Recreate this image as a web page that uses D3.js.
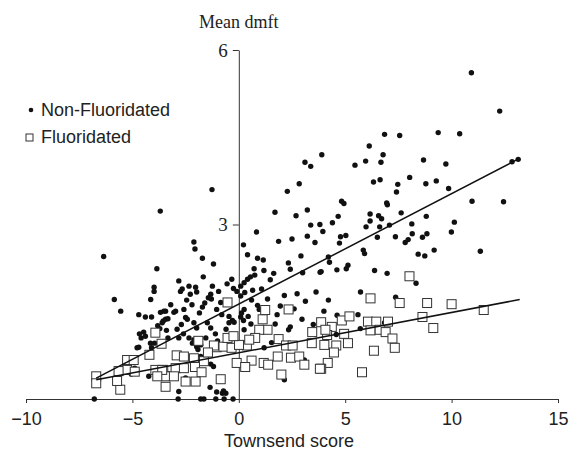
<!DOCTYPE html>
<html>
<head>
<meta charset="utf-8">
<script src="https://cdn.jsdelivr.net/npm/d3@7"></script>
<style>
  body { margin: 0; background: #fff; }
  .axis path, .axis line { stroke: #333; }
  .xaxis text { font-family: "Liberation Sans", Arial, sans-serif; font-size: 18px; fill: #222; }
  .yaxis text { font-family: "Liberation Serif", "Times New Roman", serif; font-size: 19px; fill: #222; }
</style>
</head>
<body>
<div id="chart"></div>
<script>
// Non-Fluoridated areas: [Townsend score, mean dmft]
const nonFluoridated = [
  [10.93,5.61],[12.26,4.95],[6.85,4.55],[7.56,4.53],[9.37,4.58],[10.38,4.56],[6.13,4.35],[3.90,4.20],
  [6.78,4.20],[3.11,4.07],[3.38,4.00],[5.46,4.02],[5.96,4.09],[6.68,4.07],[8.68,4.11],[9.73,4.04],
  [12.84,4.08],[13.13,4.12],[2.84,3.70],[2.28,3.57],[6.33,3.73],[6.64,3.77],[7.47,3.69],[7.41,3.56],
  [8.03,3.81],[8.79,3.70],[9.28,3.75],[9.86,3.62],[4.83,3.40],[4.94,3.36],[6.95,3.37],[6.98,3.34],
  [10.96,3.40],[12.44,3.39],[3.22,3.25],[2.69,3.15],[3.38,2.99],[3.81,3.00],[4.40,3.03],[4.67,3.14],
  [6.17,3.18],[6.17,3.06],[6.57,3.15],[6.71,3.10],[7.63,3.20],[8.81,3.14],[5.98,2.96],[6.62,2.96],
  [7.08,2.99],[8.13,3.01],[10.13,3.04],[-1.26,3.60],[-3.69,3.23],[1.70,3.21],[3.95,2.88],[3.22,2.80],
  [2.50,2.75],[0.83,2.87],[4.78,2.79],[5.03,2.81],[6.51,2.78],[7.36,2.79],[8.15,2.84],[9.99,2.87],
  [8.63,2.78],[8.84,2.84],[8.43,2.49],[8.74,2.46],[9.18,2.56],[11.35,2.54],[8.33,1.99],[4.73,2.68],
  [7.82,2.69],[7.96,2.74],[5.85,2.56],[5.91,2.50],[4.21,2.44],[4.26,2.35],[3.87,2.19],[4.61,2.22],
  [5.05,2.24],[5.13,2.30],[6.38,2.21],[6.97,2.16],[5.72,1.84],[4.21,1.70],[7.37,1.75],[4.00,1.51],
  [4.62,1.44],[5.60,1.45],[5.71,1.21],[4.58,1.11],[6.85,1.31],[1.87,2.71],[3.58,2.69],[0.22,2.65],
  [0.41,2.48],[0.88,2.42],[1.15,2.39],[2.33,2.34],[2.42,2.23],[2.92,2.46],[3.82,2.18],[0.72,2.24],
  [1.18,2.21],[1.64,2.16],[0.75,2.13],[0.55,2.10],[0.41,2.06],[0.25,2.00],[0.09,1.94],[1.48,2.05],
  [3.00,2.17],[0.65,1.87],[0.28,1.83],[0.09,1.77],[1.07,1.89],[2.14,1.78],[2.74,1.81],[3.63,1.84],
  [3.13,1.68],[0.25,1.54],[0.88,1.61],[0.96,1.54],[2.97,1.37],[0.09,1.41],[0.57,1.29],[0.25,1.19],
  [1.71,1.29],[2.42,1.24],[2.34,1.19],[1.54,0.97],[1.19,0.88],[3.08,0.67],[2.14,0.33],[3.50,1.28],
  [-2.11,2.70],[-2.06,2.58],[-1.71,2.42],[-1.19,2.32],[-2.82,2.03],[-2.34,1.94],[-2.66,1.89],[-2.74,1.85],
  [-2.03,1.92],[-1.98,1.84],[-1.67,2.10],[-1.24,1.94],[-1.32,1.80],[-1.43,1.74],[-1.29,1.72],[-2.28,1.80],
  [-0.33,2.06],[-0.25,1.90],[-0.09,1.85],[-3.68,1.49],[-3.44,1.51],[-3.05,1.49],[-2.97,1.51],[-3.55,1.34],
  [-3.44,1.37],[-2.58,1.54],[-2.50,1.40],[-2.42,1.37],[-1.71,1.58],[-0.85,1.66],[-1.04,1.54],[-0.46,1.42],
  [-0.30,1.35],[-0.22,1.32],[-0.46,1.31],[0.13,1.48],[0.22,1.35],[0.44,1.42],[-2.11,1.31],[-1.98,1.22],
  [-1.48,1.31],[-1.32,1.22],[-3.40,1.18],[-2.82,1.05],[-2.34,1.05],[-2.11,1.02],[-2.18,0.96],[-1.98,0.90],
  [-1.79,0.93],[-1.92,0.85],[-1.32,0.60],[-1.19,0.56],[-1.79,0.73],[-1.75,0.65],[-2.82,0.13],[-2.50,0.36],
  [-0.77,0.10],[-0.61,0.10],[-1.79,0.00],[-1.64,0.00],[-1.08,0.00],[-0.69,0.00],[-2.85,0.00],[-0.27,0.00],
  [-1.35,0.20],[-1.04,0.12],[-0.72,0.14],[-6.35,2.45],[-3.85,2.24],[-3.98,1.92],[-3.98,1.85],[-5.85,1.71],
  [-4.14,1.71],[-5.55,1.51],[-4.70,1.45],[-4.39,1.41],[-4.10,1.41],[-3.52,1.51],[-3.33,1.38],[-3.60,1.31],
  [-3.81,1.26],[-3.71,1.21],[-4.67,1.12],[-4.59,1.05],[-4.47,1.15],[-4.39,1.08],[-4.70,0.89],[-4.15,0.96],
  [-3.96,0.96],[-3.33,1.05],[-4.10,0.88],[-4.89,0.53],[-4.23,0.39],[-3.36,0.44],[-3.33,0.36],[-5.05,0.43],
  [-6.79,0.00],[-4.78,0.88],[-2.90,1.20],[-2.60,1.12],[-1.55,1.05],[-1.10,1.12],[-0.60,1.20],[-2.45,1.70],
  [-1.60,1.65],[-0.95,1.85],[-0.55,1.98],[1.95,1.60],[2.60,1.55],[1.35,1.72],[-2.20,1.62],[-1.85,1.48],
  [-0.80,1.45],[-3.20,1.62],[-2.70,1.28],[-1.00,1.00],[0.60,1.70],[1.80,1.45]
];

// Fluoridated areas: [Townsend score, mean dmft]
const fluoridated = [
  [8.02,2.11],[8.85,1.65],[10.00,1.63],[8.63,1.41],[9.14,1.22],[11.51,1.53],[6.19,1.73],[7.56,1.65],
  [4.84,1.35],[5.20,1.42],[6.07,1.33],[6.46,1.33],[7.01,1.33],[4.37,1.24],[4.15,1.10],[4.95,1.12],
  [5.13,0.96],[6.19,1.18],[6.62,1.19],[6.90,1.15],[7.22,1.04],[4.02,0.93],[4.58,0.92],[7.33,0.88],
  [4.47,0.80],[6.35,0.83],[4.18,0.62],[3.87,0.52],[5.79,0.46],[3.87,1.32],[1.24,1.53],[2.34,1.54],
  [1.12,1.37],[1.35,1.19],[0.96,1.19],[0.77,1.05],[0.38,0.92],[1.87,1.03],[4.07,1.19],[2.22,0.92],
  [2.53,0.92],[3.43,0.96],[0.60,0.66],[1.17,0.62],[1.38,0.59],[1.83,0.73],[2.45,0.71],[2.84,0.73],
  [3.08,0.59],[3.81,0.52],[-0.53,1.66],[-1.04,0.89],[-2.92,0.75],[-2.58,0.73],[-2.11,0.70],[-1.64,0.65],
  [-3.55,0.50],[-2.97,0.53],[-2.58,0.53],[-2.06,0.55],[-1.75,0.46],[-3.44,0.39],[-3.05,0.39],[-2.50,0.30],
  [-2.03,0.30],[-3.44,0.21],[-0.85,0.34],[-1.17,0.92],[-0.72,0.90],[-0.34,0.88],[0.01,0.93],[0.49,1.02],
  [-0.53,1.05],[-0.25,1.08],[-3.92,1.14],[-3.63,0.95],[-4.20,0.76],[-5.25,0.67],[-4.94,0.67],[-5.25,0.50],
  [-4.89,0.47],[-5.65,0.48],[-3.92,0.50],[-3.60,0.50],[-3.83,0.39],[-6.70,0.39],[-6.70,0.27],[-5.57,0.16],
  [-5.72,0.31],[-1.45,0.80],[-0.10,0.62],[0.30,0.55],[2.00,0.42],[3.45,1.15],[-1.90,1.00]
];

// Fitted lines (end points)
const fitNonFluoridated = [[-6.7, 0.36], [13.1, 4.12]];
const fitFluoridated = [[-6.7, 0.33], [13.2, 1.71]];

const xTicks = [-10, -5, 0, 5, 10, 15];
const yTicks = [3, 6];

const width = 569, height = 451;

const svg = d3.select("#chart").append("svg")
    .attr("width", width)
    .attr("height", height);

// Escalas
const x = d3.scaleLinear().domain([-10, 15]).range([26, 558]);
const y = d3.scaleLinear().domain([0, 6]).range([399, 50]);

// Ejes
svg.append("g")
    .attr("class", "axis xaxis")
    .attr("transform", `translate(0,${y(0)})`)
    .call(d3.axisBottom(x).tickValues(xTicks).tickSize(4).tickSizeOuter(0).tickPadding(9));

svg.append("g")
    .attr("class", "axis yaxis")
    .attr("transform", `translate(${x(0)},0)`)
    .call(d3.axisLeft(y).tickValues(yTicks).tickFormat(d3.format("d"))
        .tickSize(6).tickSizeOuter(0).tickPadding(5));

// Etiquetas de los ejes
svg.append("text")
    .attr("x", x(0))
    .attr("y", 28)
    .attr("text-anchor", "middle")
    .style("font-family", "'Liberation Serif', 'Times New Roman', serif")
    .style("font-size", "18px")
    .style("fill", "#222")
    .text("Mean dmft");

svg.append("text")
    .attr("x", 289)
    .attr("y", 447)
    .attr("text-anchor", "middle")
    .style("font-family", "'Liberation Sans', Arial, sans-serif")
    .style("font-size", "18px")
    .style("fill", "#222")
    .text("Townsend score");

// Puntos
svg.append("g").selectAll("circle")
    .data(nonFluoridated)
    .enter()
    .append("circle")
    .attr("cx", d => x(d[0]))
    .attr("cy", d => y(d[1]))
    .attr("r", 2.7)
    .attr("fill", "#111");

const sq = 9;
svg.append("g").selectAll("rect")
    .data(fluoridated)
    .enter()
    .append("rect")
    .attr("x", d => x(d[0]) - sq / 2)
    .attr("y", d => y(d[1]) - sq / 2)
    .attr("width", sq)
    .attr("height", sq)
    .attr("fill", "#fff")
    .attr("stroke", "#333")
    .attr("stroke-width", 1);

// Líneas de ajuste
const line = d3.line().x(d => x(d[0])).y(d => y(d[1]));
[fitNonFluoridated, fitFluoridated].forEach(f => {
    svg.append("path")
        .attr("d", line(f))
        .attr("fill", "none")
        .attr("stroke", "#111")
        .attr("stroke-width", 1.5);
});

// Leyenda
const legend = svg.append("g")
    .style("font-family", "'Liberation Sans', Arial, sans-serif")
    .style("font-size", "18px")
    .style("fill", "#222");

legend.append("circle").attr("cx", 31).attr("cy", 110).attr("r", 2.3).attr("fill", "#111");
legend.append("text").attr("x", 41).attr("y", 116).text("Non-Fluoridated");
legend.append("rect").attr("x", 26).attr("y", 134).attr("width", 7).attr("height", 7)
    .attr("fill", "#fff").attr("stroke", "#333");
legend.append("text").attr("x", 41).attr("y", 143).text("Fluoridated");
</script>
</body>
</html>
